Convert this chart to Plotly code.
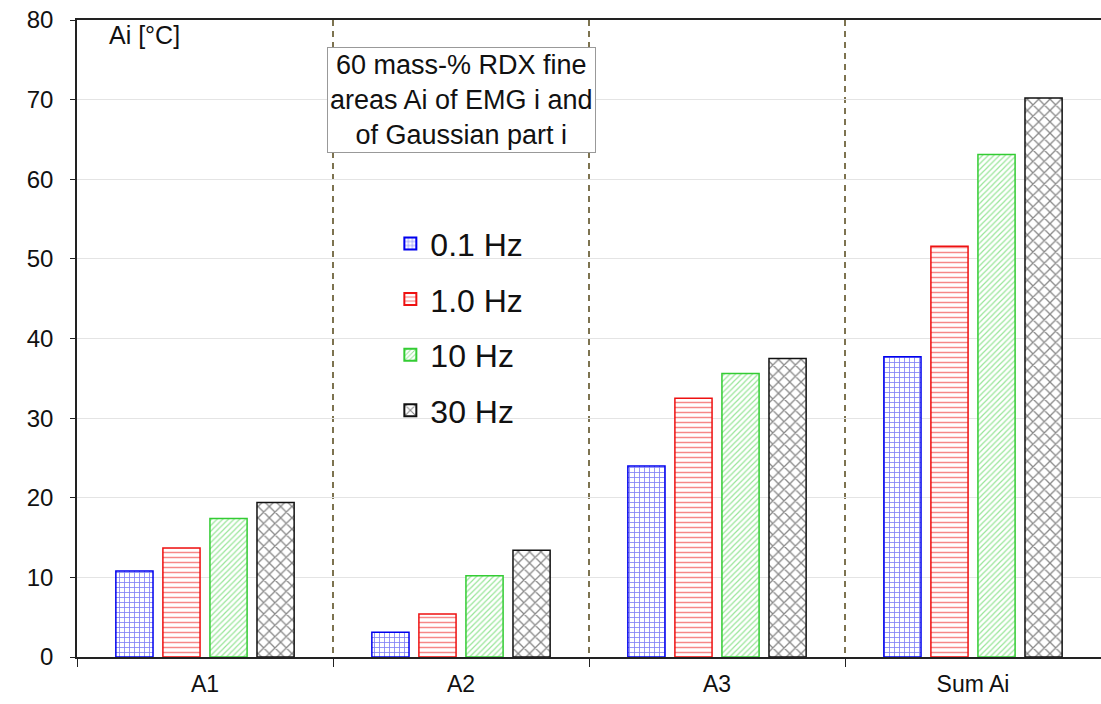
import plotly.graph_objects as go

categories = ["A1", "A2", "A3", "Sum Ai"]
series_names = ["0.1 Hz", "1.0 Hz", "10 Hz", "30 Hz"]
v_01hz = [10.8, 3.1, 24.0, 37.7]
v_1hz = [13.7, 5.4, 32.5, 51.6]
v_10hz = [17.4, 10.2, 35.6, 63.1]
v_30hz = [19.4, 13.4, 37.5, 70.2]
y_ticks = [0, 10, 20, 30, 40, 50, 60, 70, 80]

values = [v_01hz, v_1hz, v_10hz, v_30hz]
colors = ["#0000ee", "#ee1111", "#33cc33", "#111111"]
patterns = ["+", "-", "/", "x"]
pat_sizes = [5, 5, 4, 8]

FONT = "Liberation Sans, Arial, sans-serif"

fig = go.Figure()
for name, vals, col, pat, ps in zip(series_names, values, colors, patterns, pat_sizes):
    fig.add_trace(go.Bar(
        x=categories, y=vals, name=name, legendgroup=name,
        marker=dict(color="white",
                    line=dict(color=col, width=1.5),
                    pattern=dict(shape=pat, fgcolor=col, bgcolor="white",
                                 size=ps, solidity=0.3, fillmode="overlay")),
    ))

fig.update_layout(
    width=1101, height=704,
    margin=dict(l=77, r=0, t=20, b=47),
    paper_bgcolor="white", plot_bgcolor="white",
    barmode="group", bargap=0.265, bargroupgap=0.21,
    font=dict(family=FONT, color="#111111"),
    showlegend=True,
    legend=dict(x=0.306, y=0.692, xanchor="left", yanchor="top",
                font=dict(size=32, family=FONT, color="#111111"),
                bgcolor="rgba(0,0,0,0)", tracegroupgap=11,
                itemsizing="constant"),
    xaxis=dict(
        type="category", range=[-0.5, 3.5],
        showline=True, linecolor="#222222", linewidth=1.5, mirror=True,
        ticks="outside", tickson="boundaries", ticklen=8, tickcolor="#222222",
        showgrid=True, gridcolor="#7d7350", griddash="6px,5px", gridwidth=1.5,
        tickfont=dict(size=23, family=FONT, color="#111111"),
        ticklabelstandoff=6,
    ),
    yaxis=dict(
        range=[0, 80], tickvals=y_ticks,
        showline=True, linecolor="#222222", linewidth=1.5,
        ticks="outside", ticklen=5, tickcolor="#222222",
        showgrid=True, gridcolor="#e4e4e4", gridwidth=1,
        tickfont=dict(size=24, family=FONT, color="#111111"),
        ticklabelstandoff=12, zeroline=False,
    ),
    annotations=[
        dict(text="Ai [°C]", xref="paper", yref="paper", x=0.029, y=0.976,
             xanchor="left", yanchor="middle", showarrow=False,
             font=dict(size=25, family=FONT, color="#111111")),
        dict(text="60 mass-% RDX fine<br>areas Ai of EMG i and<br>of Gaussian part i",
             xref="x", yref="paper", x=1, y=0.958, xanchor="center", yanchor="top",
             showarrow=False, bordercolor="#999999", borderwidth=1, borderpad=2,
             bgcolor="white",
             font=dict(size=27, family=FONT, color="#111111")),
    ],
)

fig.write_html("out.html")
